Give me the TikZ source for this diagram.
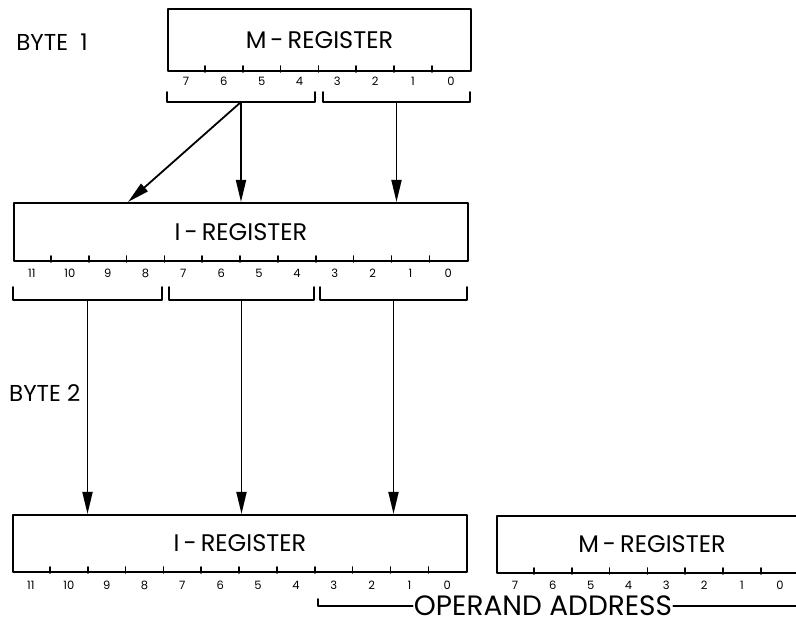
\documentclass[tikz,border=0pt]{standalone}
\usepackage{fontspec}
\setmainfont{Poppins}
\usetikzlibrary{arrows.meta}
\usetikzlibrary{calc}
\def \cw{37.85}

\tikzset{
  reg/.style={draw,line width=2pt,rectangle,inner sep=0pt,anchor=north west,
    font=\fontsize{24}{28}\selectfont},
  tick/.style={line width=1.6pt},
  bit/.style={font=\fontsize{11.5}{13}\selectfont,inner sep=0pt},
  brk/.style={line width=1.8pt},
  lbl/.style={font=\fontsize{23}{26}\selectfont,inner sep=1pt}
}

\begin{document}
\begin{tikzpicture}[line cap=round,line join=round,>={Triangle[length=22pt,width=10pt]},x=1pt,y=-1pt]
\useasboundingbox (0,0) rectangle (796,628);
\clip (0,0) rectangle (796,628);

% the registers
\node[reg,minimum width=303pt,minimum height=62pt] (mtop) at (167,8) {M\,-\,REGISTER};
\node[reg,minimum width=454pt,minimum height=58pt] (imid) at (13,202) {I\,-\,REGISTER};
\node[reg,minimum width=454pt,minimum height=57pt] (ibot) at (12,514) {I\,-\,REGISTER};
\node[reg,minimum width=310pt,minimum height=57pt] (mbot) at (496,515) {M\,-\,REGISTER};

% bit ticks and numbers
\foreach \i in {1,...,7} \draw[tick] ($(mtop.south west)+(\i*\cw,0)$) -- ++(0,-6);
\foreach \d [count=\i] in {7,...,0} \node[bit] at ($(mtop.south west)+(\i*\cw-\cw/2,9)$) {\d};
\foreach \i in {1,...,11} \draw[tick] ($(imid.south west)+(\i*\cw,0)$) -- ++(0,-6);
\foreach \d [count=\i] in {11,...,0} \node[bit] at ($(imid.south west)+(\i*\cw-\cw/2,11)$) {\d};
\foreach \i in {1,...,11} \draw[tick] ($(ibot.south west)+(\i*\cw,0)$) -- ++(0,-6);
\foreach \d [count=\i] in {11,...,0} \node[bit] at ($(ibot.south west)+(\i*\cw-\cw/2,12)$) {\d};
\foreach \i in {1,...,8} \draw[tick] ($(mbot.south west)+(\i*\cw,0)$) -- ++(0,-6);
\foreach \d [count=\i] in {7,...,0} \node[bit] at ($(mbot.south west)+(\i*\cw-\cw/2,11)$) {\d};

% brackets
\draw[brk] (167,92) -- (167,102) -- coordinate (mhi) (315,102) -- (315,92);
\draw[brk] (323,92) -- (323,102) -- coordinate (mlo) (470,102) -- (470,92);
\draw[brk] (13,287) -- (13,300) -- coordinate (ia) (162,300) -- (162,287);
\draw[brk] (169,287) -- (169,300) -- coordinate (ib) (314,300) -- (314,287);
\draw[brk] (320,287) -- (320,300) -- coordinate (ic) (467,300) -- (467,287);

% transfers
\coordinate (idiag) at ($(imid.north west)+(115,0)$);
\draw[brk,->] (mhi) -- (idiag);
\draw[brk,->] (mhi) -- (mhi |- imid.north);
\draw[brk,->] (mlo) -- (mlo |- imid.north);
\draw[brk,->] (ia) -- (ia |- ibot.north);
\draw[brk,->] (ib) -- (ib |- ibot.north);
\draw[brk,->] (ic) -- (ic |- ibot.north);

% labels
\node[lbl] (byte1) at (52,42) {BYTE\ \ 1};
\node[lbl,anchor=west] (byte2) at (8,393) {BYTE 2};
\node[lbl,font=\fontsize{28}{30}\selectfont] (opaddr) at (543,606) {OPERAND ADDRESS};
\draw[brk] (318,599) |- (opaddr.west);
\draw[brk] (opaddr.east) -- (800,606);
\end{tikzpicture}
\end{document}
